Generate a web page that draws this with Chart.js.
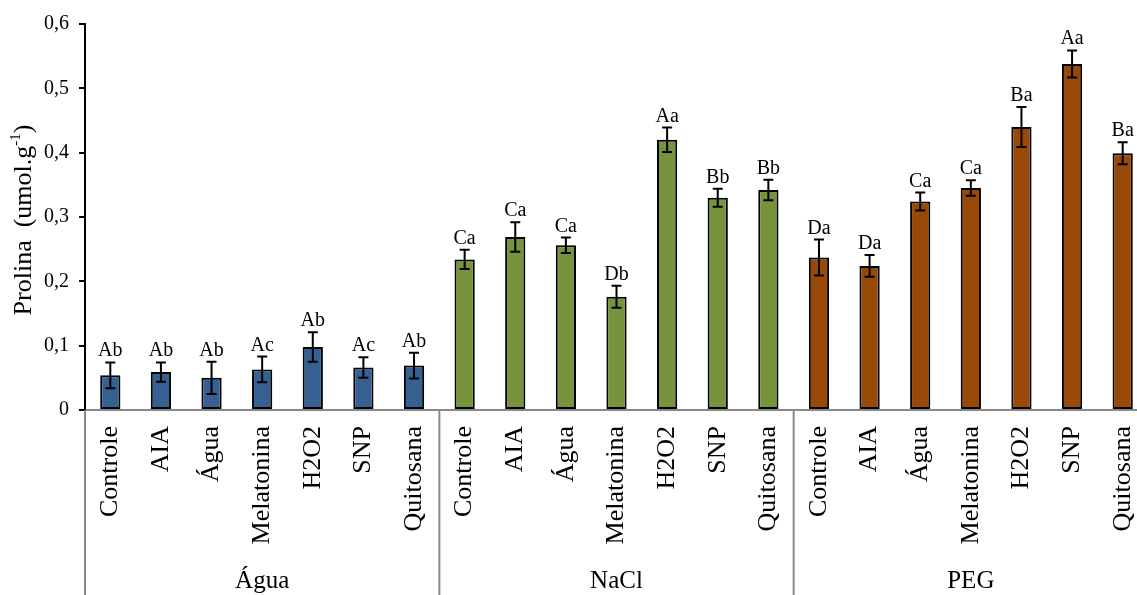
<!DOCTYPE html>
<html lang="pt">
<head>
<meta charset="utf-8">
<title>Prolina</title>
<script src="https://cdn.jsdelivr.net/npm/chart.js@4.4.1/dist/chart.umd.min.js"></script>
<style>
  html, body { margin: 0; padding: 0; background: #ffffff; overflow: hidden; }
  #wrap { width: 1148px; height: 595px; }
</style>
</head>
<body>
<div id="wrap"><canvas id="chart" width="1148" height="595"></canvas></div>
<script>
// Stress conditions (outer axis level) and treatments (inner axis level)
const groups = ['Água', 'NaCl', 'PEG'];
const treatments = ['Controle', 'AIA', 'Água', 'Melatonina', 'H2O2', 'SNP', 'Quitosana'];

// Proline content, umol.g-1 (mean and standard error)
const aguaMeans  = [0.054, 0.059, 0.050, 0.063, 0.098, 0.066, 0.069];
const aguaErrors = [0.020, 0.015, 0.025, 0.020, 0.023, 0.016, 0.020];
const aguaLetters = ['Ab', 'Ab', 'Ab', 'Ac', 'Ab', 'Ac', 'Ab'];

const naclMeans  = [0.234, 0.269, 0.256, 0.176, 0.420, 0.330, 0.342];
const naclErrors = [0.015, 0.023, 0.012, 0.017, 0.019, 0.014, 0.016];
const naclLetters = ['Ca', 'Ca', 'Ca', 'Db', 'Aa', 'Bb', 'Bb'];

const pegMeans  = [0.237, 0.224, 0.324, 0.345, 0.440, 0.538, 0.399];
const pegErrors = [0.028, 0.017, 0.014, 0.012, 0.031, 0.021, 0.017];
const pegLetters = ['Da', 'Da', 'Ca', 'Ca', 'Ba', 'Aa', 'Ba'];

const yTickLabels = ['0', '0,1', '0,2', '0,3', '0,4', '0,5', '0,6'];

const groupColors = ['#376092', '#77933C', '#984807'];
const SERIF = '"Liberation Serif", "Times New Roman", serif';

// Flattened series for the single bar dataset
const labels = [].concat(treatments, treatments, treatments);
const means = [].concat(aguaMeans, naclMeans, pegMeans);
const errors = [].concat(aguaErrors, naclErrors, pegErrors);
const letters = [].concat(aguaLetters, naclLetters, pegLetters);
const colors = labels.map((_, i) => groupColors[Math.floor(i / treatments.length)]);

// Error bars with caps and significance letters above each bar
const errorBarPlugin = {
  id: 'errorBars',
  afterDatasetsDraw(chart) {
    const { ctx, scales: { y } } = chart;
    const meta = chart.getDatasetMeta(0);
    ctx.save();
    ctx.strokeStyle = '#000000';
    ctx.lineWidth = 2;
    ctx.fillStyle = '#000000';
    ctx.font = '20px ' + SERIF;
    ctx.textAlign = 'center';
    ctx.textBaseline = 'alphabetic';
    meta.data.forEach((bar, i) => {
      const x = bar.x;
      const top = y.getPixelForValue(means[i] + errors[i]);
      const bot = y.getPixelForValue(means[i] - errors[i]);
      ctx.beginPath();
      ctx.moveTo(x, top); ctx.lineTo(x, bot);
      ctx.moveTo(x - 5, top); ctx.lineTo(x + 5, top);
      ctx.moveTo(x - 5, bot); ctx.lineTo(x + 5, bot);
      ctx.stroke();
      ctx.fillText(letters[i], x, top - 6);
    });
    ctx.restore();
  }
};

// Outer category level: separators and group names below the treatment labels
const groupAxisPlugin = {
  id: 'groupAxis',
  afterDraw(chart) {
    const { ctx, chartArea } = chart;
    const meta = chart.getDatasetMeta(0);
    const n = treatments.length;
    const bottom = chart.height;
    const edges = [chartArea.left];
    for (let g = 1; g < groups.length; g++) {
      edges.push((meta.data[g * n - 1].x + meta.data[g * n].x) / 2);
    }
    edges.push(chartArea.right);
    ctx.save();
    ctx.strokeStyle = '#898989';
    ctx.lineWidth = 2;
    ctx.beginPath();
    edges.forEach(x => { ctx.moveTo(x, chartArea.bottom); ctx.lineTo(x, bottom); });
    ctx.stroke();
    ctx.fillStyle = '#000000';
    ctx.font = '25px ' + SERIF;
    ctx.textAlign = 'center';
    ctx.textBaseline = 'alphabetic';
    groups.forEach((name, g) => {
      const cx = (edges[g] + edges[g + 1]) / 2;
      ctx.fillText(name, cx, 588);
    });
    ctx.restore();
  }
};

// Vertical axis title with superscript unit exponent
const yTitlePlugin = {
  id: 'yTitle',
  afterDraw(chart) {
    const { ctx } = chart;
    const main = 'Prolina  (umol.g';
    const sup = '-1';
    const close = ')';
    ctx.save();
    ctx.translate(31, 220);
    ctx.rotate(-Math.PI / 2);
    ctx.fillStyle = '#000000';
    ctx.textBaseline = 'alphabetic';
    ctx.textAlign = 'left';
    ctx.font = '26px ' + SERIF;
    const wMain = ctx.measureText(main).width;
    const wClose = ctx.measureText(close).width;
    ctx.font = '15px ' + SERIF;
    const wSup = ctx.measureText(sup).width;
    const total = wMain + wSup + wClose;
    let x = -total / 2;
    ctx.font = '26px ' + SERIF;
    ctx.fillText(main, x, 0);
    x += wMain;
    ctx.font = '15px ' + SERIF;
    ctx.fillText(sup, x, -11);
    x += wSup;
    ctx.font = '26px ' + SERIF;
    ctx.fillText(close, x, 0);
    ctx.restore();
  }
};

new Chart(document.getElementById('chart'), {
  type: 'bar',
  data: {
    labels: labels,
    datasets: [{
      data: means,
      backgroundColor: colors,
      borderColor: '#000000',
      borderWidth: 2,
      borderSkipped: false,
      barPercentage: 1,
      categoryPercentage: 0.4
    }]
  },
  options: {
    responsive: false,
    animation: false,
    devicePixelRatio: 1,
    layout: { padding: { top: 24, left: 0, right: 0, bottom: 0 } },
    plugins: {
      legend: { display: false },
      tooltip: { enabled: false }
    },
    scales: {
      x: {
        offset: true,
        grid: { display: false, drawTicks: false },
        border: { display: true, color: '#898989', width: 2 },
        ticks: {
          autoSkip: false,
          minRotation: 90,
          maxRotation: 90,
          padding: 16,
          color: '#000000',
          font: { family: SERIF, size: 26 }
        },
        afterFit(scale) {
          scale.height = 185;
          scale.paddingLeft = 0;
          scale.paddingRight = 0;
        }
      },
      y: {
        min: 0,
        max: 0.6,
        ticks: {
          stepSize: 0.1,
          padding: 10,
          color: '#000000',
          font: { family: SERIF, size: 20 },
          callback: (value, index) => yTickLabels[index]
        },
        grid: { drawOnChartArea: false, drawTicks: true, tickLength: 6, color: '#000000', lineWidth: 2 },
        border: { display: true, color: '#000000', width: 2 },
        afterFit(scale) { scale.width = 85; }
      }
    }
  },
  plugins: [errorBarPlugin, groupAxisPlugin, yTitlePlugin]
});
</script>
</body>
</html>
